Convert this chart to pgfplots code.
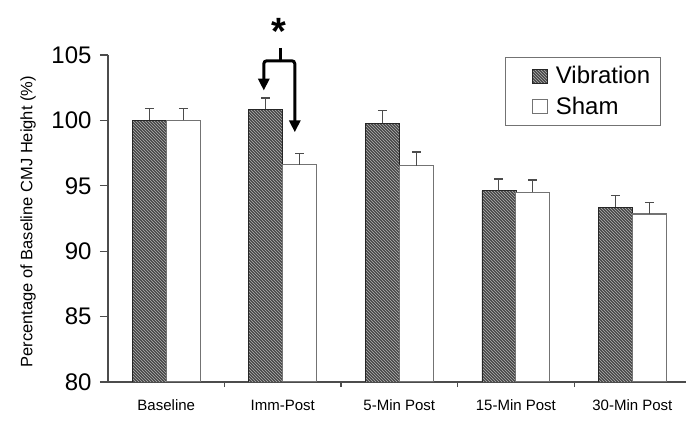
\documentclass[border=0pt]{standalone}
\usepackage{fontspec}
\setmainfont{Liberation Sans}
\usepackage{pgfplots}
\pgfplotsset{compat=1.18}
\usetikzlibrary{patterns,arrows.meta}
\begin{document}
\begin{tikzpicture}
\useasboundingbox (-108pt,-41pt) rectangle (578pt,382pt);
\begin{axis}[
  at={(0,0)}, anchor=south west,
  scale only axis, width=578pt, height=327pt,
  xmin=-0.5, xmax=4.46, ymin=80, ymax=105,
  axis lines=left, axis line style={-, black!70, line width=1.2pt},
  ytick={80,85,...,105},
  xtick={0,1,2,3,4},
  xticklabels={Baseline,Imm-Post,5-Min Post,15-Min Post,30-Min Post},
  minor xtick={0.5,1.5,2.5,3.5},
  tick align=outside,
  major tick length=8pt, minor tick length=5pt,
  major x tick style={draw=none},
  tick style={black!70, line width=1.2pt},
  minor x tick style={black!70, line width=1.2pt},
  /pgf/number format/assume math mode=true,
  yticklabel style={font=\fontsize{24}{28}\selectfont, xshift=-5pt},
  xticklabel style={font=\fontsize{15}{18}\selectfont, anchor=north, text height=11pt, text depth=3pt, yshift=-6pt},
  ylabel={Percentage of Baseline CMJ Height (\%)},
  every axis y label/.style={at={(axis description cs:-0.1384,0.49)}, rotate=90, anchor=center, font=\fontsize{16.5}{20}\selectfont},
  ybar, bar width=34pt,
  legend style={at={(axis description cs:0.687,0.994)}, anchor=north west,
    draw=black!55, line width=1.2pt, font=\fontsize{24}{29}\selectfont,
    inner xsep=8pt, inner ysep=7pt, row sep=8pt, legend cell align=left},
  legend image code/.code={\path (-18pt,0) (21pt,0); \draw[#1, line width=0.8pt] (0pt,-7pt) rectangle (15pt,7pt);},
  error bars/error bar style={line width=1.2pt, black!70},
  error bars/error mark options={rotate=90, mark size=4.5pt, line width=1.2pt, black!70},
]
\addplot+[bar shift=-17pt, draw=black!85, line width=0.6pt, fill=black!72,
  postaction={pattern=north west lines, pattern color=black!30},
  error bars/.cd, y dir=plus, y explicit]
  coordinates {(0,100.0) +- (0,0.9) (1,100.85) +- (0,0.86) (2,99.77) +- (0,1.0) (3,94.62) +- (0,0.9) (4,93.36) +- (0,0.91)};
\addplot+[bar shift=17pt, draw=black!55, line width=1.2pt, fill=white,
  error bars/.cd, y dir=plus, y explicit]
  coordinates {(0,100.0) +- (0,0.9) (1,96.6) +- (0,0.87) (2,96.55) +- (0,1.04) (3,94.5) +- (0,0.94) (4,92.85) +- (0,0.86)};
\legend{Vibration,Sham}
\coordinate (st) at (axis cs:0.983,105.55);
\coordinate (sb) at (axis cs:0.983,104.56);
\coordinate (hl) at (axis cs:0.837,104.56);
\coordinate (hr) at (axis cs:1.103,104.56);
\coordinate (al) at (axis cs:0.837,102.28);
\coordinate (ar) at (axis cs:1.103,99.09);
\coordinate (star) at (axis cs:0.966,105.83);
\end{axis}
\draw[line width=3pt, black] (st) -- (sb);
\draw[line width=3pt, black, rounded corners=3pt, -{Triangle[length=12pt,width=11pt]}] (sb) -- (hl) -- (al);
\draw[line width=3pt, black, rounded corners=3pt, -{Triangle[length=12pt,width=11pt]}] (sb) -- (hr) -- (ar);
\node[anchor=base, inner sep=0pt, font=\bfseries\fontsize{38}{40}\selectfont] at (star) {*};
\end{tikzpicture}
\end{document}
